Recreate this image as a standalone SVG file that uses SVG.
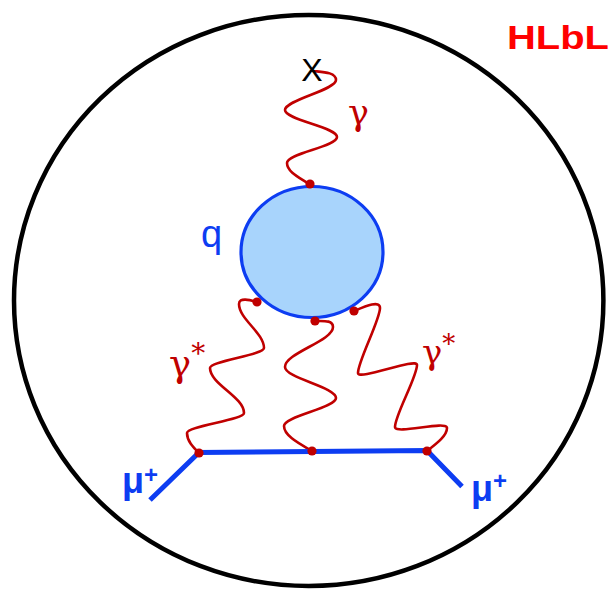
<svg xmlns="http://www.w3.org/2000/svg" width="612" height="589" viewBox="0 0 612 589">
<style>
.photon{fill:none;stroke:#c00000;stroke-width:2.6;stroke-linecap:round;stroke-linejoin:round}
.muon{fill:none;stroke:#0d3df2;stroke-width:5;stroke-linecap:butt}
.dot{fill:#c00000}
.greek{font-family:"DejaVu Serif","Liberation Serif",serif;fill:#c00000}
.mu{font-family:"Liberation Sans",Arial,sans-serif;font-weight:bold;fill:#0d3df2}
</style>
<rect width="612" height="589" fill="#ffffff"/>
<g id="frame">
<ellipse cx="308.7" cy="300.5" rx="294.7" ry="285.5" fill="none" stroke="#000" stroke-width="4.5"/>
</g>
<g id="blob">
<ellipse cx="312" cy="252" rx="71" ry="65.5" fill="#a8d4fc" stroke="#0d3df2" stroke-width="3.2"/>
<text x="201" y="247" font-family="Liberation Sans, Arial, sans-serif" font-size="38" fill="#0d3df2">q</text>
</g>
<g id="connectors">
<path class="photon" d="M313,71 C322,72 336,72 336,80 C336,90 285,100 285,110 C285,120 337,127 337,137 C337,147 287,153 287,163 C287,172 300,178 309,184"/>
<path class="photon" d="M257,302 C250,300 239,297 239,304 C239,319 264,333 264,348 C264,355 210,361 210,368 C210,384 244,397 244,413 C244,420 187,426 187,433 C187,441 193,447 199,453"/>
<path class="photon" d="M315,321 C324,321 333,320 333,327 C333,341 285,353 285,367 C285,378 336,387 336,398 C336,408 284,416 284,426 C284,436 300,444 312,451"/>
<path class="photon" d="M354,311 C366,306 380,300 380,308 C380,320 358,361 358,373 C358,381 417,357 417,365 C417,377 395,415 395,427 C395,435 447,420 447,428 C447,436 436,444 427,451"/>
<path class="muon" d="M150,500 L199,452.5 L427,450.5 L462,486.5"/>
</g>
<g id="vertices">
<circle class="dot" cx="310" cy="184" r="4.6"/>
<circle class="dot" cx="257" cy="302" r="4.6"/>
<circle class="dot" cx="315" cy="321" r="4.6"/>
<circle class="dot" cx="354" cy="311" r="4.6"/>
<circle class="dot" cx="199" cy="453" r="4.6"/>
<circle class="dot" cx="312" cy="451" r="4.6"/>
<circle class="dot" cx="427" cy="451" r="4.6"/>
</g>
<g id="labels">
<text x="312" y="81" font-family="Liberation Sans, Arial, sans-serif" font-size="32" text-anchor="middle" fill="#000">X</text>
<text class="greek" x="348" y="125" font-size="35">γ</text>
<text class="greek" x="169" y="376" font-size="37">γ<tspan font-size="28" dy="-13">*</tspan></text>
<text class="greek" x="422" y="364" font-size="34">γ<tspan font-size="26" dy="-11">*</tspan></text>
<text class="mu" x="122" y="493" font-size="36">μ<tspan font-size="24" dy="-10">+</tspan></text>
<text class="mu" x="471" y="501" font-size="36">μ<tspan font-size="24" dy="-12">+</tspan></text>
<text x="507" y="49" font-family="Liberation Sans, Arial, sans-serif" font-weight="bold" font-size="34" fill="#ff0000" textLength="102" lengthAdjust="spacingAndGlyphs">HLbL</text>
</g>
</svg>
